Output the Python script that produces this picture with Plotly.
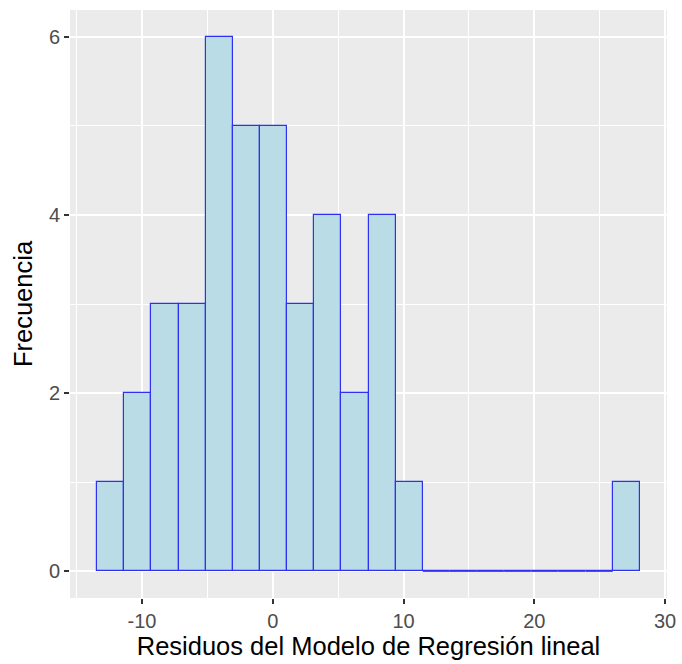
import plotly.graph_objects as go

# Histogram of regression residuals: 20 bins of equal width
bin_start = -13.43
bin_width = 2.075
counts = [1, 2, 3, 3, 6, 5, 5, 3, 4, 2, 4, 1, 0, 0, 0, 0, 0, 0, 0, 1]

x_ticks = [-10, 0, 10, 20, 30]
y_ticks = [0, 2, 4, 6]

edges = [bin_start + i * bin_width for i in range(len(counts) + 1)]
centers = [(edges[i] + edges[i + 1]) / 2 for i in range(len(counts))]

outline = "#3030F5"

fig = go.Figure()
fig.add_trace(go.Bar(
    x=centers, y=counts, width=[bin_width] * len(counts),
    marker=dict(color="#BADCE6", line=dict(color=outline, width=1.2)),
    hoverinfo="x+y",
))

# empty bins are drawn as flat outlines on the baseline
zx, zy = [], []
for i, c in enumerate(counts):
    if c == 0:
        zx += [edges[i], edges[i + 1], None]
        zy += [0, 0, None]
fig.add_trace(go.Scatter(x=zx, y=zy, mode="lines", line=dict(color=outline, width=1.2),
                         hoverinfo="skip"))

xr = edges[-1] - edges[0]
ymax = max(counts)
font = "Liberation Sans, Arial"
axis_common = dict(
    automargin=False,
    showgrid=True, gridcolor="white", gridwidth=2,
    zeroline=False, showline=False,
    ticks="outside", ticklen=5, tickwidth=2, tickcolor="#333333",
    tickfont=dict(family=font, size=20, color="#4D4D4D"),
    minor=dict(showgrid=True, gridcolor="white", gridwidth=1, ticks=""),
)

fig.update_layout(
    width=682, height=664,
    margin=dict(l=70, r=15, t=10, b=66),
    paper_bgcolor="white", plot_bgcolor="#EBEBEB",
    showlegend=False, bargap=0,
    xaxis=dict(
        range=[edges[0] - 0.05 * xr, edges[-1] + 0.05 * xr],
        tickvals=x_ticks, ticktext=[str(v) for v in x_ticks],
        title=dict(text="Residuos del Modelo de Regresión lineal", standoff=6,
                   font=dict(family=font, size=25.5, color="black")),
        **axis_common,
    ),
    yaxis=dict(
        range=[-0.05 * ymax, ymax * 1.05],
        tickvals=y_ticks,
        title=dict(text="Frecuencia", standoff=8,
                   font=dict(family=font, size=25.5, color="black")),
        **axis_common,
    ),
)
fig.update_xaxes(minor=dict(dtick=5, tick0=-15))
fig.update_yaxes(minor=dict(dtick=1, tick0=-1))

fig.write_html("out.html")
